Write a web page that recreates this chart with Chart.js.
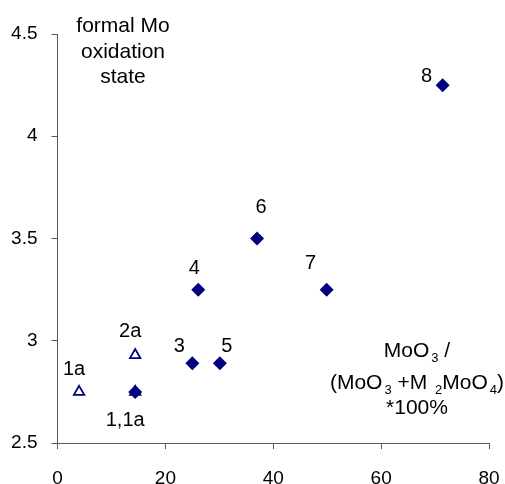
<!DOCTYPE html>
<html>
<head>
<meta charset="utf-8">
<script src="https://cdn.jsdelivr.net/npm/chart.js@4.4.1/dist/chart.umd.min.js"></script>
<style>
  html, body { margin: 0; padding: 0; background: #fff; }
  #ox-chart { display: block; }
</style>
</head>
<body>
<canvas id="ox-chart" width="505" height="484"></canvas>
<script>
  // catalysts: MoO3 share (%) vs. formal Mo oxidation state
  var sampleNames = ['1,1a', '3', '4', '5', '6', '7', '8'];
  var ratioFilled = [14.4, 25.0, 26.1, 30.1, 37.0, 49.9, 71.4];
  var oxStateFilled = [2.75, 2.89, 3.25, 2.89, 3.5, 3.25, 4.25];

  var sampleNamesOpen = ['1a', '', '2a'];
  var ratioOpen = [4.0, 14.4, 14.4];
  var oxStateOpen = [2.75, 2.75, 2.93];

  var xTicks = [0, 20, 40, 60, 80];
  var yTicks = [2.5, 3, 3.5, 4, 4.5];

  var navy = '#000080';
  var axisGrey = '#5a5a5a';
  var fontFamily = '"Liberation Sans", Arial, sans-serif';

  function toPoints(xs, ys) {
    var pts = [];
    for (var i = 0; i < xs.length; i++) pts.push({ x: xs[i], y: ys[i] });
    return pts;
  }

  // label nudges (px) relative to each marker
  var nudgeFilled = [[-10, 34], [-13, -11], [-4, -16], [7, -11], [4, -26], [-16, -21], [-16, -3]];
  var nudgeOpen = [[-5, -17], [0, 0], [-5, -18]];

  var pointLabels = {
    id: 'pointLabels',
    afterDatasetsDraw: function (chart) {
      var ctx = chart.ctx;
      var xs = chart.scales.x, ys = chart.scales.y;
      ctx.save();
      ctx.fillStyle = '#000';
      ctx.font = '20px ' + fontFamily;
      ctx.textAlign = 'center';
      ctx.textBaseline = 'alphabetic';
      function put(names, xv, yv, nudge) {
        for (var i = 0; i < names.length; i++) {
          if (!names[i]) continue;
          ctx.fillText(names[i],
            xs.getPixelForValue(xv[i]) + nudge[i][0],
            ys.getPixelForValue(yv[i]) + nudge[i][1]);
        }
      }
      put(sampleNames, ratioFilled, oxStateFilled, nudgeFilled);
      put(sampleNamesOpen, ratioOpen, oxStateOpen, nudgeOpen);

      // y axis title, top left inside the plot
      ctx.font = '21px ' + fontFamily;
      ['formal Mo', 'oxidation', 'state'].forEach(function (t, i) {
        ctx.fillText(t, 123, 32 + i * 25.5);
      });

      // x axis title with subscripts, drawn run by run (gap before each subscript)
      var big = '21px ' + fontFamily, small = '13px ' + fontFamily;
      var lines = [
        { y: 357, runs: [['MoO', 0], ['3', 1], [' /', 0]] },
        { y: 389, runs: [['(MoO', 0], ['3', 1], [' +M ', 0], ['2', 1], ['MoO', 0], ['4', 1], [')', 0]] },
        { y: 414, runs: [['*100%', 0]] }
      ];
      ctx.textAlign = 'left';
      lines.forEach(function (ln) {
        var w = 0;
        ln.runs.forEach(function (r) {
          ctx.font = r[1] ? small : big;
          w += ctx.measureText(r[0]).width + (r[1] ? 2 : 0);
        });
        var x = 417 - w / 2;
        ln.runs.forEach(function (r) {
          ctx.font = r[1] ? small : big;
          if (r[1]) x += 2;
          ctx.fillText(r[0], x, ln.y + (r[1] ? 5 : 0));
          x += ctx.measureText(r[0]).width;
        });
      });
      ctx.restore();
    }
  };

  var axisCommon = {
    type: 'linear',
    grid: { drawOnChartArea: false, drawTicks: true, tickLength: 6, color: axisGrey, lineWidth: 1 },
    border: { display: true, color: axisGrey, width: 1 },
    title: { display: false }
  };

  var ctx = document.getElementById('ox-chart').getContext('2d');
  window.oxChart = new Chart(ctx, {
    type: 'scatter',
    data: {
      datasets: [
        {
          data: toPoints(ratioFilled, oxStateFilled),
          pointStyle: 'rectRot',
          pointRadius: 7,
          pointHoverRadius: 7,
          backgroundColor: navy,
          borderColor: navy,
          borderWidth: 0
        },
        {
          data: toPoints(ratioOpen, oxStateOpen),
          pointStyle: 'triangle',
          pointRadius: 6,
          pointHoverRadius: 6,
          backgroundColor: '#fff',
          borderColor: navy,
          borderWidth: 1.8
        }
      ]
    },
    options: {
      responsive: false,
      animation: false,
      devicePixelRatio: 1,
      layout: { padding: { top: 34, right: 16, left: 0, bottom: 0 } },
      plugins: { legend: { display: false }, tooltip: { enabled: false } },
      scales: {
        x: Object.assign({}, axisCommon, {
          min: xTicks[0], max: xTicks[xTicks.length - 1],
          afterBuildTicks: function (s) { s.ticks = xTicks.map(function (v) { return { value: v }; }); },
          ticks: { color: '#000', font: { size: 19, family: fontFamily }, padding: 18, maxRotation: 0 },
          afterFit: function (s) { s.height = 41; s.paddingLeft = 0; s.paddingRight = 0; }
        }),
        y: Object.assign({}, axisCommon, {
          min: yTicks[0], max: yTicks[yTicks.length - 1],
          afterBuildTicks: function (s) { s.ticks = yTicks.map(function (v) { return { value: v }; }); },
          ticks: {
            color: '#000', font: { size: 19, family: fontFamily }, padding: 14,
            callback: function (v) { return String(v); }
          },
          afterFit: function (s) { s.width = 57.5; }
        })
      }
    },
    plugins: [pointLabels]
  });
</script>
</body>
</html>
